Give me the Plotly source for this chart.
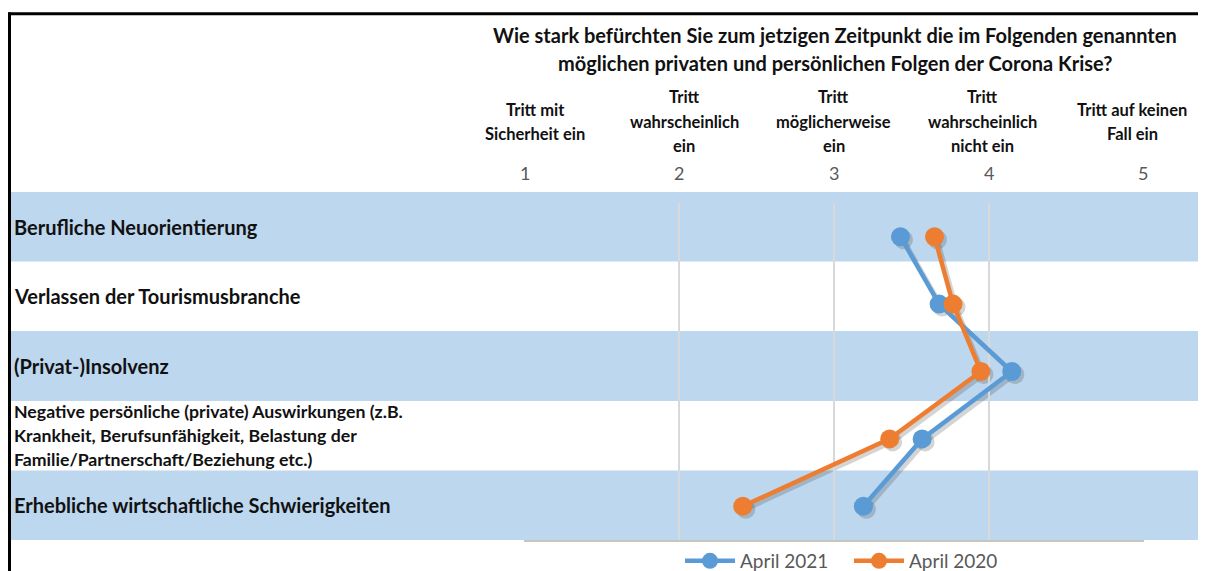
import plotly.graph_objects as go

# ---------------- data ----------------
categories = [
    "Berufliche Neuorientierung",
    "Verlassen der Tourismusbranche",
    "(Privat-)Insolvenz",
    "Negative persönliche (private) Auswirkungen",
    "Erhebliche wirtschaftliche Schwierigkeiten",
]
row_labels = [
    ["Berufliche Neuorientierung"],
    ["Verlassen der Tourismusbranche"],
    ["(Privat-)Insolvenz"],
    ["Negative persönliche (private) Auswirkungen (z.B.",
     "Krankheit, Berufsunfähigkeit, Belastung der",
     "Familie/Partnerschaft/Beziehung etc.)"],
    ["Erhebliche wirtschaftliche Schwierigkeiten"],
]
april_2021 = [3.43, 3.68, 4.15, 3.57, 3.19]
april_2020 = [3.65, 3.77, 3.95, 3.36, 2.41]

scale_values = [1, 2, 3, 4, 5]
scale_labels = [
    ["Tritt mit", "Sicherheit ein"],
    ["Tritt", "wahrscheinlich", "ein"],
    ["Tritt", "möglicherweise", "ein"],
    ["Tritt", "wahrscheinlich", "nicht ein"],
    ["Tritt auf keinen", "Fall ein"],
]
title_lines = [
    "Wie stark befürchten Sie zum jetzigen Zeitpunkt die im Folgenden genannten",
    "möglichen privaten und persönlichen Folgen der Corona Krise?",
]

# ---------------- layout helpers ----------------
# page body has an 8px margin: figure origin sits at (8, 8) in the window
OX, OY = 8, 8
W, H = 1198, 563
FONT = "Lato"
BLUE = "#5B9BD5"
ORANGE = "#ED7D31"
BAND = "#BDD7EE"


def px(x):
    return (x - OX) / W


def py(y):
    return 1 - (y - OY) / H


fig = go.Figure()

# soft drop shadows (slightly offset subplot, drawn first)
for vals in (april_2021, april_2020):
    fig.add_trace(go.Scatter(
        x=vals, y=categories, mode="lines+markers", xaxis="x", yaxis="y",
        line=dict(color="rgba(40,40,40,0.20)", width=4.5),
        marker=dict(size=19, color="rgba(40,40,40,0.20)"),
        showlegend=False, hoverinfo="skip",
    ))

fig.add_trace(go.Scatter(
    x=april_2021, y=categories, name="April 2021", mode="lines+markers",
    xaxis="x2", yaxis="y2",
    line=dict(color=BLUE, width=4.5), marker=dict(size=19, color=BLUE),
))
fig.add_trace(go.Scatter(
    x=april_2020, y=categories, name="April 2020", mode="lines+markers",
    xaxis="x2", yaxis="y2",
    line=dict(color=ORANGE, width=4.5), marker=dict(size=19, color=ORANGE),
))

# plot area: x 524..1144, y 203..540 (window px)
off = 3
x_dom = [px(524), px(1144)]
y_dom = [py(540), py(203)]
x_dom_s = [px(524 + off), px(1144 + off)]
y_dom_s = [py(540 + off), py(203 + off)]
x_range = [0.995, 5.005]

shapes = []
edges = [192, 261.5, 331, 401, 470.5, 540]
for i in range(5):
    if i % 2 == 0:
        shapes.append(dict(type="rect", xref="paper", yref="paper",
                           x0=px(10.5), x1=1, y0=py(edges[i + 1]), y1=py(edges[i]),
                           fillcolor=BAND, line=dict(width=0), layer="below"))
# frame
shapes.append(dict(type="line", xref="paper", yref="paper", x0=px(8), x1=1,
                   y0=py(13.8), y1=py(13.8), line=dict(color="black", width=3)))
shapes.append(dict(type="line", xref="paper", yref="paper", x0=px(9.5), x1=px(9.5),
                   y0=py(12.5), y1=0, line=dict(color="black", width=3)))

annotations = []
for i, t in enumerate(title_lines):
    annotations.append(dict(text=f"<b>{t}</b>", xref="paper", yref="paper",
                            x=px(835), y=py(35 + 28 * i), xanchor="center", yanchor="middle",
                            showarrow=False, font=dict(family=FONT, size=20, color="#111111")))
# header cells (evenly spaced text columns) and scale numbers on the axis
for k, (v, lines) in enumerate(zip(scale_values, scale_labels)):
    n = len(lines)
    hx = 535 + 149.3 * k
    for j, ln in enumerate(lines):
        yc = 122 + (j - (n - 1) / 2) * 24.5
        annotations.append(dict(text=f"<b>{ln}</b>", xref="paper", yref="paper",
                                x=px(hx), y=py(yc), xanchor="center", yanchor="middle",
                                showarrow=False, font=dict(family=FONT, size=16.5, color="#111111")))
    annotations.append(dict(text=str(v), xref="x2", yref="paper", x=v, y=py(173),
                            xanchor="center", yanchor="middle", showarrow=False,
                            font=dict(family=FONT, size=18, color="#595959")))
for i, lines in enumerate(row_labels):
    yc_row = (edges[i] + edges[i + 1]) / 2
    n = len(lines)
    size = 20 if n == 1 else 17.7
    for j, ln in enumerate(lines):
        yc = yc_row + (j - (n - 1) / 2) * 24
        annotations.append(dict(text=f"<b>{ln}</b>", xref="paper", yref="paper",
                                x=px(12), y=py(yc), xanchor="left", yanchor="middle",
                                showarrow=False, font=dict(family=FONT, size=size, color="#111111")))

fig.update_layout(
    width=W, height=H,
    margin=dict(l=0, r=0, t=0, b=0, autoexpand=False),
    paper_bgcolor="white", plot_bgcolor="rgba(0,0,0,0)",
    font=dict(family=FONT),
    xaxis=dict(domain=x_dom_s, range=x_range, visible=False, fixedrange=True),
    yaxis=dict(domain=y_dom_s, type="category", categoryarray=categories,
               range=[4.5, -0.5], visible=False, fixedrange=True),
    xaxis2=dict(domain=x_dom, range=x_range, anchor="y2", tickvals=scale_values,
                showticklabels=False, ticks="", showgrid=True, gridcolor="#D9D9D9",
                gridwidth=1.5, zeroline=False, showline=True, linecolor="#C9C4BE",
                linewidth=1.5, side="bottom", fixedrange=True),
    yaxis2=dict(domain=y_dom, anchor="x2", type="category", categoryarray=categories,
                range=[4.5, -0.5], showticklabels=False, showgrid=False,
                zeroline=False, showline=False, ticks="", fixedrange=True),
    shapes=shapes,
    annotations=annotations,
    legend=dict(orientation="h", x=px(849), xanchor="center", y=py(561),
                yanchor="middle", font=dict(family=FONT, size=19, color="#595959"),
                bgcolor="rgba(0,0,0,0)", itemwidth=50, entrywidth=104,
                tracegroupgap=0),
    showlegend=True,
)

fig.write_html("out.html")
